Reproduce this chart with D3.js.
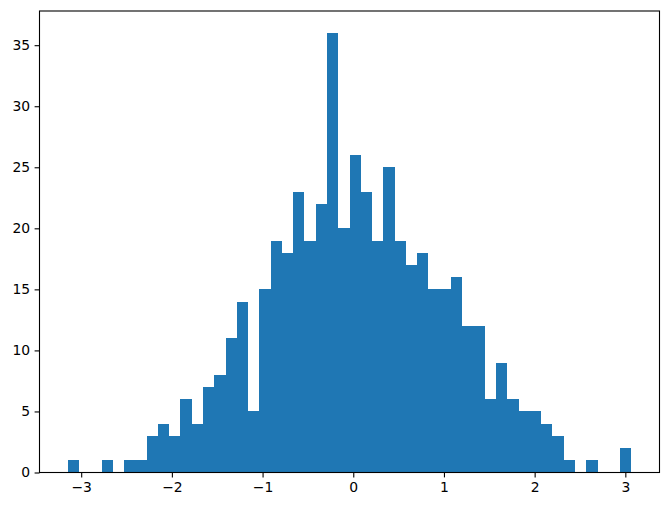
<!DOCTYPE html>
<html>
<head>
<meta charset="utf-8">
<script src="https://cdn.jsdelivr.net/npm/d3@7"></script>
<style>
  body { margin: 0; background: #fff; }
  text { font-family: "DejaVu Sans", sans-serif; }
</style>
</head>
<body>
<div id="chart"></div>
<script>
// histogram: 50 bins between the first and last edge
var binMin = -3.149;
var binMax = 3.066;
var counts = [
  1, 0, 0, 1, 0, 1, 1, 3, 4, 3,
  6, 4, 7, 8, 11, 14, 5, 15, 19, 18,
  23, 19, 22, 36, 20, 26, 23, 19, 25, 19,
  17, 18, 15, 15, 16, 12, 12, 6, 9, 6,
  5, 5, 4, 3, 1, 0, 1, 0, 0, 2
];
var xTicks = [-3, -2, -1, 0, 1, 2, 3];
var yTicks = [0, 5, 10, 15, 20, 25, 30, 35];

var W = 670, H = 505;
var margin = { left: 39.5, right: 10.5, top: 11, bottom: 32.5 };
var iw = W - margin.left - margin.right;
var ih = H - margin.top - margin.bottom;

var nBins = counts.length;
var binW = (binMax - binMin) / nBins;
var pad = (binMax - binMin) * 0.05;
var x = d3.scaleLinear().domain([binMin - pad, binMax + pad]).range([0, iw]);
var y = d3.scaleLinear().domain([0, d3.max(counts) * 1.05]).range([ih, 0]);

var svg = d3.select("#chart").append("svg")
  .attr("width", W)
  .attr("height", H);

var g = svg.append("g")
  .attr("transform", "translate(" + margin.left + "," + margin.top + ")");

// crisp edges so neighbouring bars join without seams
g.selectAll("rect.bar")
  .data(counts)
  .enter()
  .append("rect")
  .attr("class", "bar")
  .attr("x", function(d, i) { return x(binMin + i * binW); })
  .attr("width", function(d, i) { return x(binMin + (i + 1) * binW) - x(binMin + i * binW); })
  .attr("y", function(d) { return y(d); })
  .attr("height", function(d) { return ih - y(d); })
  .attr("fill", "#1f77b4")
  .attr("shape-rendering", "crispEdges");

var xAxis = g.append("g")
  .attr("transform", "translate(0," + ih + ")")
  .call(d3.axisBottom(x).tickValues(xTicks).tickSize(4.9).tickPadding(4.5).tickFormat(d3.format("d")));
var yAxis = g.append("g")
  .call(d3.axisLeft(y).tickValues(yTicks).tickSize(4.9).tickPadding(4.5).tickFormat(d3.format("d")));

[xAxis, yAxis].forEach(function(a) {
  a.select(".domain").remove();
  a.selectAll(".tick line").attr("stroke", "#000").attr("stroke-width", 1.1);
  a.selectAll(".tick text").attr("fill", "#000").style("font-size", "13.9px");
});

// frame
g.append("rect")
  .attr("x", 0)
  .attr("y", 0)
  .attr("width", iw)
  .attr("height", ih)
  .attr("fill", "none")
  .attr("stroke", "#000")
  .attr("stroke-width", 1.1);
</script>
</body>
</html>
